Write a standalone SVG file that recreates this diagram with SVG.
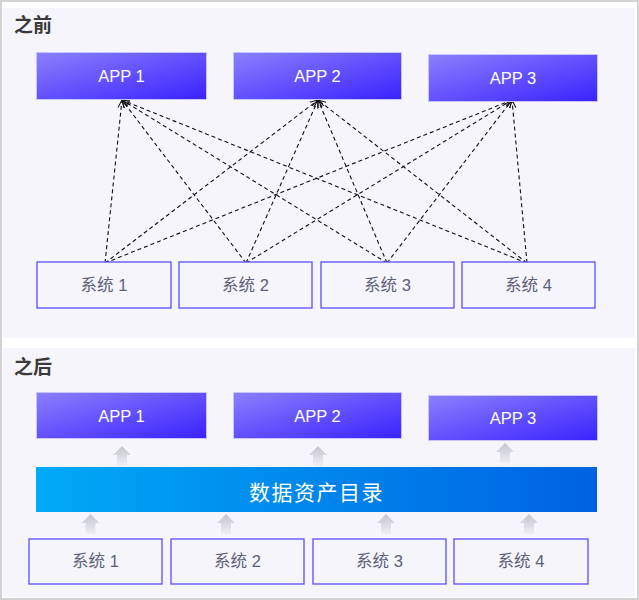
<svg xmlns="http://www.w3.org/2000/svg" width="639" height="600" viewBox="0 0 639 600">
<style>
.title{font-family:"Noto Sans CJK SC","Liberation Sans",sans-serif;font-weight:bold;font-size:19px;fill:#3a3a3a}
.app rect{fill:url(#gApp);stroke:#c9c4ff;stroke-width:1}
.app text{font-family:"Liberation Sans",Arial,sans-serif;font-size:16.5px;fill:#fff;text-anchor:middle}
.sys rect{fill:#f5f5fb;stroke:#5b4dff;stroke-width:1.3}
.sys text{font-family:"Liberation Sans","Noto Sans CJK SC",sans-serif;font-size:16.5px;fill:#5d6078;text-anchor:middle}
.dash line{stroke:#111;stroke-width:1.1;stroke-dasharray:4 3;marker-end:url(#arr)}
.up{fill:url(#gUp)}
</style>
<defs>
<linearGradient id="gApp" x1="0" y1="0" x2="1" y2="1">
<stop offset="0" stop-color="#8b80fc"/>
<stop offset="1" stop-color="#3a22ff"/>
</linearGradient>
<linearGradient id="gBar" x1="0" y1="0" x2="1" y2="0">
<stop offset="0" stop-color="#00aaf6"/>
<stop offset="1" stop-color="#0062e2"/>
</linearGradient>
<linearGradient id="gUp" x1="0" y1="0" x2="0" y2="1">
<stop offset="0" stop-color="#c4c5cc"/>
<stop offset="1" stop-color="#eeeef5"/>
</linearGradient>
<marker id="arr" viewBox="0 0 10 10" refX="10" refY="5" markerWidth="8" markerHeight="8" orient="auto" markerUnits="userSpaceOnUse">
<path d="M0,1 L10,5 L0,9" fill="none" stroke="#111" stroke-width="1.3"/>
</marker>
<path id="upArrow" d="M0,0 L9,9 L5,9 L5,20 L-5,20 L-5,9 L-9,9 Z"/>
</defs>
<rect x="0" y="0" width="639" height="600" fill="#ffffff"/>
<rect x="1" y="1" width="637" height="598" fill="none" stroke="#d2d2d2" stroke-width="2"/>
<rect x="3" y="8" width="632" height="330" fill="#f5f5fb"/>
<rect x="3" y="348" width="632" height="249" fill="#f5f5fb"/>

<text class="title" x="14" y="32">之前</text>
<text class="title" x="14" y="374">之后</text>

<g id="connectors">
<g class="dash">
<line x1="105" y1="263" x2="122" y2="100"/>
<line x1="105" y1="263" x2="318" y2="100"/>
<line x1="105" y1="263" x2="512" y2="100"/>
<line x1="246" y1="263" x2="122" y2="100"/>
<line x1="246" y1="263" x2="318" y2="100"/>
<line x1="246" y1="263" x2="512" y2="100"/>
<line x1="387" y1="263" x2="122" y2="100"/>
<line x1="387" y1="263" x2="318" y2="100"/>
<line x1="387" y1="263" x2="512" y2="100"/>
<line x1="527" y1="263" x2="122" y2="100"/>
<line x1="527" y1="263" x2="318" y2="100"/>
<line x1="527" y1="263" x2="512" y2="100"/>
</g>
<g id="upArrows">
<use href="#upArrow" class="up" x="122" y="446"/>
<use href="#upArrow" class="up" x="318" y="446"/>
<use href="#upArrow" class="up" x="505" y="443"/>
<use href="#upArrow" class="up" x="90.5" y="514"/>
<use href="#upArrow" class="up" x="226" y="514"/>
<use href="#upArrow" class="up" x="386" y="514"/>
<use href="#upArrow" class="up" x="529" y="514"/>
</g>
</g>

<g id="before-app1" class="app"><rect x="36.5" y="52.5" width="170" height="47"/><text x="121.5" y="82">APP 1</text></g>
<g id="before-app2" class="app"><rect x="233.5" y="52.5" width="168" height="47"/><text x="317.5" y="82">APP 2</text></g>
<g id="before-app3" class="app"><rect x="428.5" y="54.5" width="169" height="47"/><text x="513" y="84">APP 3</text></g>

<g id="before-sys1" class="sys"><rect x="37" y="262" width="134" height="46"/><text x="104" y="291">系统 1</text></g>
<g id="before-sys2" class="sys"><rect x="179" y="262" width="133" height="46"/><text x="245.5" y="291">系统 2</text></g>
<g id="before-sys3" class="sys"><rect x="321" y="262" width="133" height="46"/><text x="387.5" y="291">系统 3</text></g>
<g id="before-sys4" class="sys"><rect x="462" y="262" width="133" height="46"/><text x="528.5" y="291">系统 4</text></g>

<g id="after-app1" class="app"><rect x="36.5" y="392.5" width="170" height="46"/><text x="121.5" y="422">APP 1</text></g>
<g id="after-app2" class="app"><rect x="233.5" y="392.5" width="168" height="46"/><text x="317.5" y="422">APP 2</text></g>
<g id="after-app3" class="app"><rect x="428.5" y="395.5" width="169" height="45"/><text x="513" y="424">APP 3</text></g>

<g id="catalog">
<rect x="36" y="467" width="561" height="45" fill="url(#gBar)"/>
<text x="316.5" y="500" font-family="'Noto Sans CJK SC',sans-serif" font-size="21px" letter-spacing="1.5" fill="#fff" text-anchor="middle">数据资产目录</text>
</g>

<g id="after-sys1" class="sys"><rect x="29" y="539" width="133" height="45"/><text x="95.5" y="567">系统 1</text></g>
<g id="after-sys2" class="sys"><rect x="171" y="539" width="133" height="45"/><text x="237.5" y="567">系统 2</text></g>
<g id="after-sys3" class="sys"><rect x="313" y="539" width="133" height="45"/><text x="379.5" y="567">系统 3</text></g>
<g id="after-sys4" class="sys"><rect x="454" y="539" width="134" height="45"/><text x="521" y="567">系统 4</text></g>
</svg>
